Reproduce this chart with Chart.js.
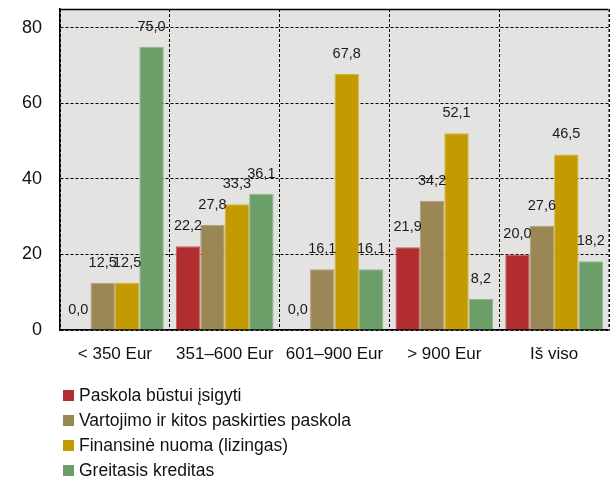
<!DOCTYPE html>
<html>
<head>
<meta charset="utf-8">
<script src="https://cdn.jsdelivr.net/npm/chart.js@4.4.1/dist/chart.umd.min.js"></script>
<style>
	html, body { margin: 0; padding: 0; background: #ffffff; }
	#wrap { width: 610px; height: 481px; position: relative; }
</style>
</head>
<body>
<div id="wrap"><canvas id="chart" width="610" height="481"></canvas></div>
<script>
const categories = ["< 350 Eur", "351–600 Eur", "601–900 Eur", "> 900 Eur", "Iš viso"];
const seriesNames = ["Paskola būstui įsigyti", "Vartojimo ir kitos paskirties paskola", "Finansinė nuoma (lizingas)", "Greitasis kreditas"];
const housing = [0.0, 22.2, 0.0, 21.9, 20.0];
const consumer = [12.5, 27.8, 16.1, 34.2, 27.6];
const leasing = [12.5, 33.3, 67.8, 52.1, 46.5];
const quick = [75.0, 36.1, 16.1, 8.2, 18.2];
const yTicks = [0, 20, 40, 60, 80];

const FONT = "'Liberation Sans', Arial, sans-serif";
const colors = ["#b22d30", "#9b8756", "#c39a00", "#6b9e68"];
const edges = ["#c65a5c", "#b0a078", "#d4b233", "#8db58a"];
const values = [housing, consumer, leasing, quick];

const fmt = (v) => v.toFixed(1).replace(".", ",");

const framePlugin = {
	id: "frame",
	beforeDraw(chart) {
		const { ctx, chartArea: a } = chart;
		ctx.save();
		ctx.fillStyle = "#e3e4e2";
		ctx.fillRect(a.left, a.top, a.right - a.left, a.bottom - a.top);
		ctx.restore();
	},
	afterDraw(chart) {
		const { ctx, chartArea: a } = chart;
		ctx.save();
		ctx.strokeStyle = "#000000";
		ctx.lineWidth = 1.5;
		ctx.beginPath();
		ctx.moveTo(a.left, a.top + 0.5);
		ctx.lineTo(a.right, a.top + 0.5);
		ctx.stroke();
		ctx.lineWidth = 1;
		ctx.strokeStyle = "#777777";
		ctx.setLineDash([3, 2]);
		ctx.beginPath();
		ctx.moveTo(a.right - 0.5, a.top);
		ctx.lineTo(a.right - 0.5, a.bottom);
		ctx.stroke();
		ctx.setLineDash([]);

		// value labels
		ctx.fillStyle = "#1a1a1a";
		ctx.font = "14.5px " + FONT;
		ctx.textAlign = "center";
		ctx.textBaseline = "alphabetic";
		chart.data.datasets.forEach((ds, i) => {
			chart.getDatasetMeta(i).data.forEach((bar, j) => {
				ctx.fillText(fmt(ds.data[j]), bar.x, bar.y - 16);
			});
		});

		// legend
		ctx.font = "17.5px " + FONT;
		ctx.textAlign = "left";
		ctx.textBaseline = "middle";
		chart.data.datasets.forEach((ds, i) => {
			const y = 395 + i * 25;
			ctx.fillStyle = ds.backgroundColor;
			ctx.fillRect(63, y - 5, 11, 11);
			ctx.fillStyle = "#111111";
			ctx.fillText(ds.label, 79, y + 1);
		});
		ctx.restore();
	},
};

new Chart(document.getElementById("chart"), {
	type: "bar",
	data: {
		labels: categories,
		datasets: seriesNames.map((name, i) => ({
			label: name,
			data: values[i],
			backgroundColor: colors[i],
			borderColor: edges[i],
			borderWidth: 1,
			barPercentage: 1,
			categoryPercentage: 0.89,
		})),
	},
	options: {
		responsive: false,
		animation: false,
		layout: {
			padding: { left: 0, right: 1, top: 9, bottom: 111 },
		},
		plugins: {
			legend: { display: false },
			tooltip: { enabled: false },
		},
		scales: {
			x: {
				afterFit: (scale) => {
					scale.height = 40;
					scale.paddingLeft = 0;
					scale.paddingRight = 0;
				},
				ticks: {
					color: "#111111",
					font: { family: FONT, size: 17 },
					padding: 14,
					maxRotation: 0,
					minRotation: 0,
					autoSkip: false,
				},
				grid: {
					offset: true,
					color: "#000000",
					lineWidth: 1,
					drawTicks: false,
				},
				border: { display: true, color: "#000000", width: 1.5, dash: [3, 2] },
			},
			y: {
				min: 0,
				max: 85,
				afterFit: (scale) => {
					scale.width = 60;
					scale.paddingTop = 0;
					scale.paddingBottom = 0;
				},
				afterBuildTicks: (scale) => { scale.ticks = yTicks.map((v) => ({ value: v })); },
				ticks: {
					color: "#111111",
					font: { family: FONT, size: 18 },
					padding: 18,
				},
				grid: {
					color: "#000000",
					lineWidth: 1,
					drawTicks: false,
				},
				border: { display: true, color: "#000000", width: 1.5, dash: [3, 2] },
			},
		},
	},
	plugins: [framePlugin],
});
</script>
</body>
</html>
